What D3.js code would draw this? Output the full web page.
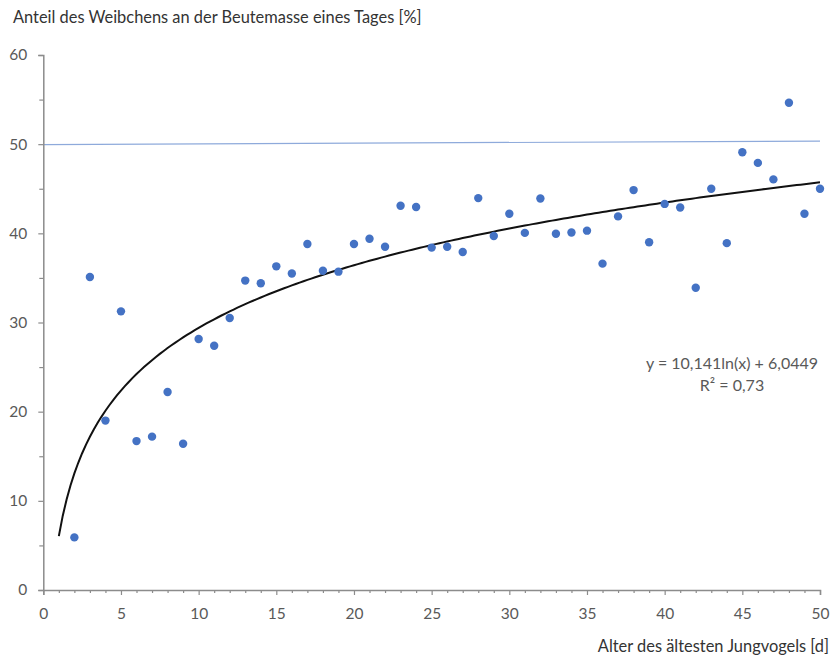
<!DOCTYPE html>
<html>
<head>
<meta charset="utf-8">
<script src="https://cdn.jsdelivr.net/npm/d3@7/dist/d3.min.js"></script>
<style>
  html, body { margin: 0; padding: 0; background: #fff; }
  svg { display: block; }
  text { font-family: Lato, "Open Sans", sans-serif; }
</style>
</head>
<body>
<svg id="chart" width="831" height="657"></svg>
<script>
// Age of the oldest nestling (days)
const ageDays = [2,3,4,5,6,7,8,9,10,11,12,13,14,15,16,17,18,19,20,21,22,23,24,25,26,
                 27,28,29,30,31,32,33,34,35,36,37,38,39,40,41,42,43,44,45,46,47,48,49,50];
// Female share of the day's prey mass (%)
const femaleShare = [5.9,35.1,19.0,31.25,16.7,17.2,22.2,16.4,28.15,27.4,30.5,34.7,34.4,36.3,35.5,
                     38.8,35.8,35.7,38.8,39.4,38.5,43.1,42.95,38.4,38.5,37.9,43.95,39.7,42.2,40.05,
                     43.9,39.95,40.1,40.3,36.6,41.9,44.85,39.0,43.3,42.9,33.9,45.0,38.9,49.1,47.9,
                     46.05,54.65,42.2,45.0];
// Logarithmic trend y = a*ln(x) + b
const trendCoef = [10.141, 6.0449];
const trendLabel = ["y = 10,141ln(x) + 6,0449", "R² = 0,73"];
// 50 % reference line (start / end values)
const refX = [0, 50];
const refY = [49.95, 50.35];
// Axis ticks
const xTicks = [0,5,10,15,20,25,30,35,40,45,50];
const yTicks = [0,10,20,30,40,50,60];
const yTitle = "Anteil des Weibchens an der Beutemasse eines Tages [%]";
const xTitle = "Alter des ältesten Jungvogels [d]";

const svg = d3.select("#chart");
const x = d3.scaleLinear().domain([0, 50]).range([43.3, 820]);
const y = d3.scaleLinear().domain([0, 60]).range([590, 55]);

const axisColor = "#8c8c8c";
const labelColor = "#595959";
const titleColor = "#333333";

// Reference line
svg.append("line")
  .attr("x1", x(refX[0])).attr("y1", y(refY[0]))
  .attr("x2", x(refX[1])).attr("y2", y(refY[1]))
  .attr("stroke", "#8eaadb").attr("stroke-width", 1.2);

// Axes
const yAxis = d3.axisLeft(y).tickValues(yTicks).tickSize(5).tickPadding(11).tickFormat(d3.format("d"));
const gy = svg.append("g").attr("transform", `translate(${x(0)},0)`).call(yAxis);
const yMinor = d3.axisLeft(y).tickValues(d3.range(5, 60, 10)).tickSize(4).tickFormat("");
const gy2 = svg.append("g").attr("transform", `translate(${x(0)},0)`).call(yMinor);

const xAxis = d3.axisBottom(x).tickValues(xTicks).tickSize(5).tickPadding(13).tickFormat(d3.format("d"));
const gx = svg.append("g").attr("transform", `translate(0,${y(0)})`).call(xAxis);
const xMinor = d3.axisBottom(x).tickValues(d3.range(1, 50).filter(v => v % 5 !== 0)).tickSize(3).tickFormat("");
const gx2 = svg.append("g").attr("transform", `translate(0,${y(0)})`).call(xMinor);

[gy, gy2, gx, gx2].forEach(g => {
  g.select(".domain").attr("stroke", axisColor).attr("stroke-width", 1.5);
  g.selectAll(".tick line").attr("stroke", axisColor).attr("stroke-width", 1.2);
  g.selectAll(".tick text").attr("fill", labelColor)
    .style("font-family", "Lato, sans-serif").style("font-size", "15.5px");
});
gy2.select(".domain").remove();
gx2.select(".domain").remove();

// Trend curve
const trendX = d3.range(1, 50.01, 0.25);
const line = d3.line().x(d => x(d)).y(d => y(trendCoef[0] * Math.log(d) + trendCoef[1]));
svg.append("path").datum(trendX)
  .attr("d", line).attr("fill", "none")
  .attr("stroke", "#111").attr("stroke-width", 2);

// Data points
svg.append("g").selectAll("circle")
  .data(ageDays.map((d, i) => [d, femaleShare[i]]))
  .join("circle")
  .attr("cx", d => x(d[0])).attr("cy", d => y(d[1]))
  .attr("r", 4.2).attr("fill", "#4472c4");

// Trend label
svg.append("text").attr("x", 732).attr("y", 369).attr("text-anchor", "middle")
  .attr("fill", labelColor).style("font-size", "16px").text(trendLabel[0]);
svg.append("text").attr("x", 732).attr("y", 391).attr("text-anchor", "middle")
  .attr("fill", labelColor).style("font-size", "16px").text(trendLabel[1]);

// Axis titles
svg.append("text").attr("x", 13).attr("y", 23)
  .attr("fill", titleColor).style("font-size", "16.4px").text(yTitle);
svg.append("text").attr("x", 829).attr("y", 652).attr("text-anchor", "end")
  .attr("fill", titleColor).style("font-size", "16.4px").text(xTitle);
</script>
</body>
</html>
